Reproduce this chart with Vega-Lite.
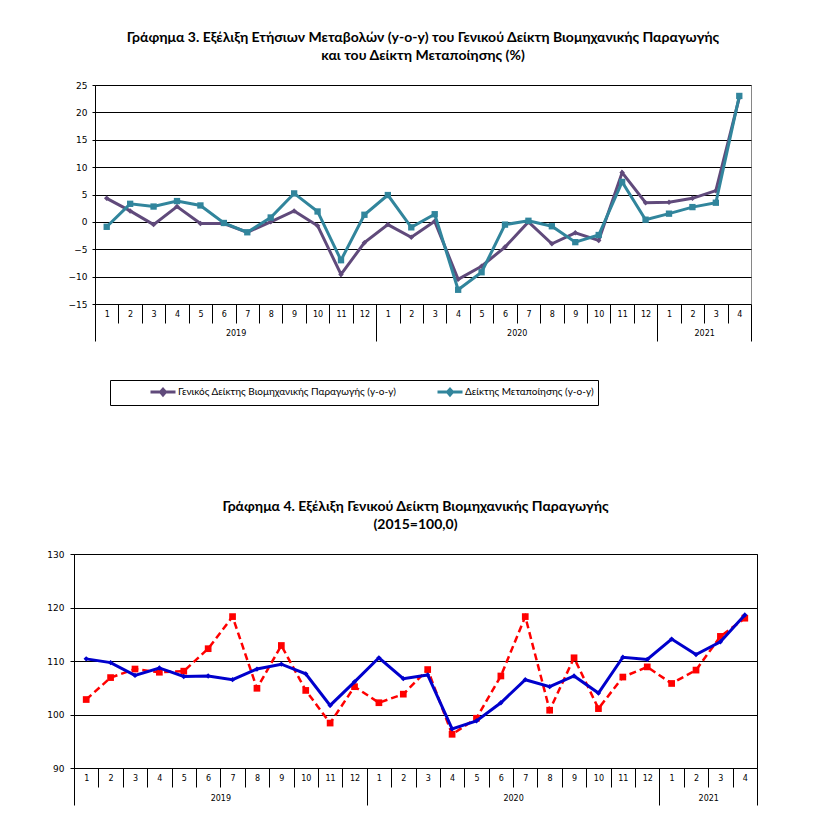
{
  "$schema": "https://vega.github.io/schema/vega-lite/v6.json",
  "background": "white",
  "padding": {"left": 46, "top": 30, "right": 0, "bottom": 0},
  "datasets": {
    "yoy": [
      {"t": 1, "gen": 4.3, "man": -0.9},
      {"t": 2, "gen": 2.0, "man": 3.3},
      {"t": 3, "gen": -0.5, "man": 2.8},
      {"t": 4, "gen": 2.8, "man": 3.8},
      {"t": 5, "gen": -0.3, "man": 3.0},
      {"t": 6, "gen": -0.3, "man": -0.2},
      {"t": 7, "gen": -1.9, "man": -1.9},
      {"t": 8, "gen": 0.0, "man": 0.8},
      {"t": 9, "gen": 2.0, "man": 5.2},
      {"t": 10, "gen": -0.7, "man": 1.9},
      {"t": 11, "gen": -9.6, "man": -7.0},
      {"t": 12, "gen": -3.8, "man": 1.3},
      {"t": 13, "gen": -0.5, "man": 4.9},
      {"t": 14, "gen": -2.8, "man": -1.0},
      {"t": 15, "gen": 0.1, "man": 1.4},
      {"t": 16, "gen": -10.5, "man": -12.4},
      {"t": 17, "gen": -8.1, "man": -9.2},
      {"t": 18, "gen": -4.6, "man": -0.5},
      {"t": 19, "gen": 0.0, "man": 0.2},
      {"t": 20, "gen": -4.0, "man": -0.8},
      {"t": 21, "gen": -2.0, "man": -3.7},
      {"t": 22, "gen": -3.4, "man": -2.4},
      {"t": 23, "gen": 9.0, "man": 7.3},
      {"t": 24, "gen": 3.5, "man": 0.4},
      {"t": 25, "gen": 3.6, "man": 1.5},
      {"t": 26, "gen": 4.3, "man": 2.7},
      {"t": 27, "gen": 5.7, "man": 3.5},
      {"t": 28, "gen": 22.7, "man": 23.0}
    ],
    "index": [
      {"t": 1, "sa": 110.4, "raw": 102.8},
      {"t": 2, "sa": 109.7, "raw": 106.9},
      {"t": 3, "sa": 107.3, "raw": 108.5},
      {"t": 4, "sa": 108.7, "raw": 107.9},
      {"t": 5, "sa": 107.1, "raw": 108.1},
      {"t": 6, "sa": 107.2, "raw": 112.3},
      {"t": 7, "sa": 106.5, "raw": 118.3},
      {"t": 8, "sa": 108.5, "raw": 104.9},
      {"t": 9, "sa": 109.4, "raw": 112.9},
      {"t": 10, "sa": 107.6, "raw": 104.5},
      {"t": 11, "sa": 101.7, "raw": 98.4},
      {"t": 12, "sa": 106.1, "raw": 105.2},
      {"t": 13, "sa": 110.6, "raw": 102.2},
      {"t": 14, "sa": 106.7, "raw": 103.8},
      {"t": 15, "sa": 107.4, "raw": 108.4},
      {"t": 16, "sa": 97.3, "raw": 96.3},
      {"t": 17, "sa": 98.8, "raw": 99.3},
      {"t": 18, "sa": 102.2, "raw": 107.2},
      {"t": 19, "sa": 106.5, "raw": 118.3},
      {"t": 20, "sa": 105.2, "raw": 100.8},
      {"t": 21, "sa": 107.2, "raw": 110.6},
      {"t": 22, "sa": 104.0, "raw": 101.1},
      {"t": 23, "sa": 110.7, "raw": 107.0},
      {"t": 24, "sa": 110.3, "raw": 108.9},
      {"t": 25, "sa": 114.1, "raw": 105.8},
      {"t": 26, "sa": 111.2, "raw": 108.3},
      {"t": 27, "sa": 113.6, "raw": 114.6},
      {"t": 28, "sa": 118.6, "raw": 118.0}
    ]
  },
  "vconcat": [
    {
      "spacing": -8,
      "hconcat": [
        {
          "width": 1,
          "height": 1,
          "view": {"stroke": null},
          "data": {"values": []},
          "mark": {"type": "point", "opacity": 0},
          "encoding": {}
        },
        {
          "title": {
            "text": ["Γράφημα 3. Εξέλιξη Ετήσιων Μεταβολών (y-o-y) του Γενικού Δείκτη Βιομηχανικής Παραγωγής", "και του Δείκτη Μεταποίησης (%)"],
            "font": "Lato", "fontSize": 14, "fontWeight": "bold", "lineHeight": 18, "offset": 18, "anchor": "middle", "frame": "group", "color": "black"
          },
          "width": 656,
          "height": 219,
          "view": {"stroke": "#868686"},
          "data": {"name": "yoy"},
          "layer": [
            {
              "mark": {"type": "line", "strokeWidth": 3, "point": {"filled": true, "shape": "diamond", "size": 30}},
              "encoding": {
                "x": {
                  "field": "t", "type": "quantitative",
                  "scale": {"domain": [0.5, 28.5], "nice": false, "zero": false},
                  "axis": {
                    "orient": "bottom", "title": null, "domain": false, "grid": false, "tickCount": 100,
                    "values": [1,2,3,4,5,6,7,8,9,10,11,12,13,14,15,16,17,18,19,20,21,22,23,24,25,26,27,28],
                    "tickSize": 19, "tickWidth": 1, "tickColor": "black", "tickOffset": -11.714, "labelOffset": 11.714,
                    "labelPadding": -13, "labelFlush": false, "labelOverlap": false, "labelBound": false, "labelAngle": 0,
                    "labelFont": "DejaVu Sans", "labelFontSize": 8, "labelColor": "black",
                    "labelExpr": "'' + ((datum.value - 1) % 12 + 1)"
                  }
                },
                "y": {
                  "field": "gen", "type": "quantitative",
                  "scale": {"domain": [-15, 25], "nice": false, "zero": false},
                  "axis": {
                    "title": null, "tickCount": 100, "format": "d",
                    "values": [-15, -10, -5, 0, 5, 10, 15, 20, 25],
                    "grid": true, "gridColor": "black",
                    "gridWidth": 1, "domain": true, "domainColor": "black", "tickColor": "black", "tickSize": 3,
                    "labelPadding": 5, "labelFont": "DejaVu Sans", "labelFontSize": 9, "labelColor": "black"
                  }
                },
                "color": {
                  "datum": "Γενικός Δείκτης Βιομηχανικής Παραγωγής (y-o-y)",
                  "scale": {
                    "domain": ["Γενικός Δείκτης Βιομηχανικής Παραγωγής (y-o-y)", "Δείκτης Μεταποίησης (y-o-y)"],
                    "range": ["#604A7B", "#31859C"]
                  },
                  "legend": {
                    "orient": "none", "legendX": 36, "legendY": 295, "direction": "horizontal",
                    "title": "\u00a0", "titleOrient": "left", "titlePadding": 41, "titleColor": "transparent", "titleFont": "Lato", "titleFontSize": 10,
                    "strokeColor": "black", "padding": 4, "columnPadding": 35,
                    "symbolType": "M-2,0H2M-0.4,0L0,-0.45L0.4,0L0,0.45Z", "symbolSize": 156.25, "symbolStrokeWidth": 3,
                    "labelFont": "Lato", "labelFontSize": 10, "labelColor": "black", "labelLimit": 600, "labelOffset": 7,
                    "labelExpr": "length(datum.label) < 35 ? pad(datum.label, 105, '\u00a0') : datum.label"
                  }
                }
              }
            },
            {
              "mark": {"type": "line", "strokeWidth": 3, "point": {"filled": true, "shape": "square", "size": 40}},
              "encoding": {
                "x": {
                  "field": "t", "type": "quantitative",
                  "axis": {
                    "orient": "bottom", "title": null, "domain": false, "grid": false, "ticks": false, "tickCount": 100,
                    "values": [6.5, 18.5, 26.5],
                    "labelPadding": 25, "labelFlush": false, "labelOverlap": false, "labelBound": false, "labelAngle": 0,
                    "labelFont": "DejaVu Sans", "labelFontSize": 8, "labelColor": "black",
                    "labelExpr": "datum.value < 12 ? '2019' : datum.value < 24 ? '2020' : '2021'"
                  }
                },
                "y": {"field": "man", "type": "quantitative"},
                "color": {"datum": "Δείκτης Μεταποίησης (y-o-y)"}
              }
            },
            {
              "mark": {"type": "point", "opacity": 0},
              "encoding": {
                "x": {
                  "field": "t", "type": "quantitative",
                  "axis": {
                    "orient": "bottom", "title": null, "domain": false, "grid": false, "labels": false, "tickCount": 100,
                    "values": [0.5, 12.5, 24.5, 28.5],
                    "tickSize": 37, "tickWidth": 1, "tickColor": "black"
                  }
                },
                "y": {"field": "man", "type": "quantitative"}
              }
            }
          ],
          "resolve": {"axis": {"x": "independent"}}
        }
      ]
    },
    {
      "title": {
        "text": ["Γράφημα 4. Εξέλιξη Γενικού Δείκτη Βιομηχανικής Παραγωγής", "(2015=100,0)"],
        "font": "Lato", "fontSize": 14, "fontWeight": "bold", "lineHeight": 18, "offset": 18, "anchor": "middle", "frame": "group", "color": "black"
      },
      "width": 683,
      "height": 214,
      "view": {"stroke": "black"},
      "data": {"name": "index"},
      "layer": [
        {
          "mark": {"type": "line", "color": "#FF0000", "strokeWidth": 2.5, "strokeDash": [7, 4], "point": {"filled": true, "shape": "square", "size": 45, "color": "#FF0000"}},
          "encoding": {
            "x": {
              "field": "t", "type": "quantitative",
              "scale": {"domain": [0.5, 28.5], "nice": false, "zero": false},
              "axis": {
                "orient": "bottom", "title": null, "domain": false, "grid": false, "tickCount": 100,
                "values": [1,2,3,4,5,6,7,8,9,10,11,12,13,14,15,16,17,18,19,20,21,22,23,24,25,26,27,28],
                "tickSize": 19, "tickWidth": 1, "tickColor": "black", "tickOffset": -12.196, "labelOffset": 12.196,
                "labelPadding": -13, "labelFlush": false, "labelOverlap": false, "labelBound": false, "labelAngle": 0,
                "labelFont": "DejaVu Sans", "labelFontSize": 8, "labelColor": "black",
                "labelExpr": "'' + ((datum.value - 1) % 12 + 1)"
              }
            },
            "y": {
              "field": "raw", "type": "quantitative",
              "scale": {"domain": [90, 130], "nice": false, "zero": false},
              "axis": {
                "title": null, "tickCount": 100, "format": "d",
                "values": [90, 100, 110, 120, 130],
                "grid": true, "gridColor": "black", "gridWidth": 1,
                "domain": true, "domainColor": "black", "tickColor": "black", "tickSize": 4,
                "labelPadding": 6, "labelFont": "DejaVu Sans", "labelFontSize": 9, "labelColor": "black"
              }
            }
          }
        },
        {
          "mark": {"type": "line", "color": "#0000CC", "strokeWidth": 3, "point": {"filled": true, "shape": "diamond", "size": 28, "color": "#0000CC"}},
          "encoding": {
            "x": {
              "field": "t", "type": "quantitative",
              "axis": {
                "orient": "bottom", "title": null, "domain": false, "grid": false, "ticks": false, "tickCount": 100,
                "values": [6.5, 18.5, 26.5],
                "labelPadding": 26, "labelFlush": false, "labelOverlap": false, "labelBound": false, "labelAngle": 0,
                "labelFont": "DejaVu Sans", "labelFontSize": 8, "labelColor": "black",
                "labelExpr": "datum.value < 12 ? '2019' : datum.value < 24 ? '2020' : '2021'"
              }
            },
            "y": {"field": "sa", "type": "quantitative"}
          }
        },
        {
          "mark": {"type": "point", "opacity": 0},
          "encoding": {
            "x": {
              "field": "t", "type": "quantitative",
              "axis": {
                "orient": "bottom", "title": null, "domain": false, "grid": false, "labels": false, "tickCount": 100,
                "values": [0.5, 12.5, 24.5, 28.5],
                "tickSize": 37, "tickWidth": 1, "tickColor": "black"
              }
            },
            "y": {"field": "sa", "type": "quantitative"}
          }
        }
      ],
      "resolve": {"axis": {"x": "independent"}}
    }
  ],
  "spacing": 157
}
